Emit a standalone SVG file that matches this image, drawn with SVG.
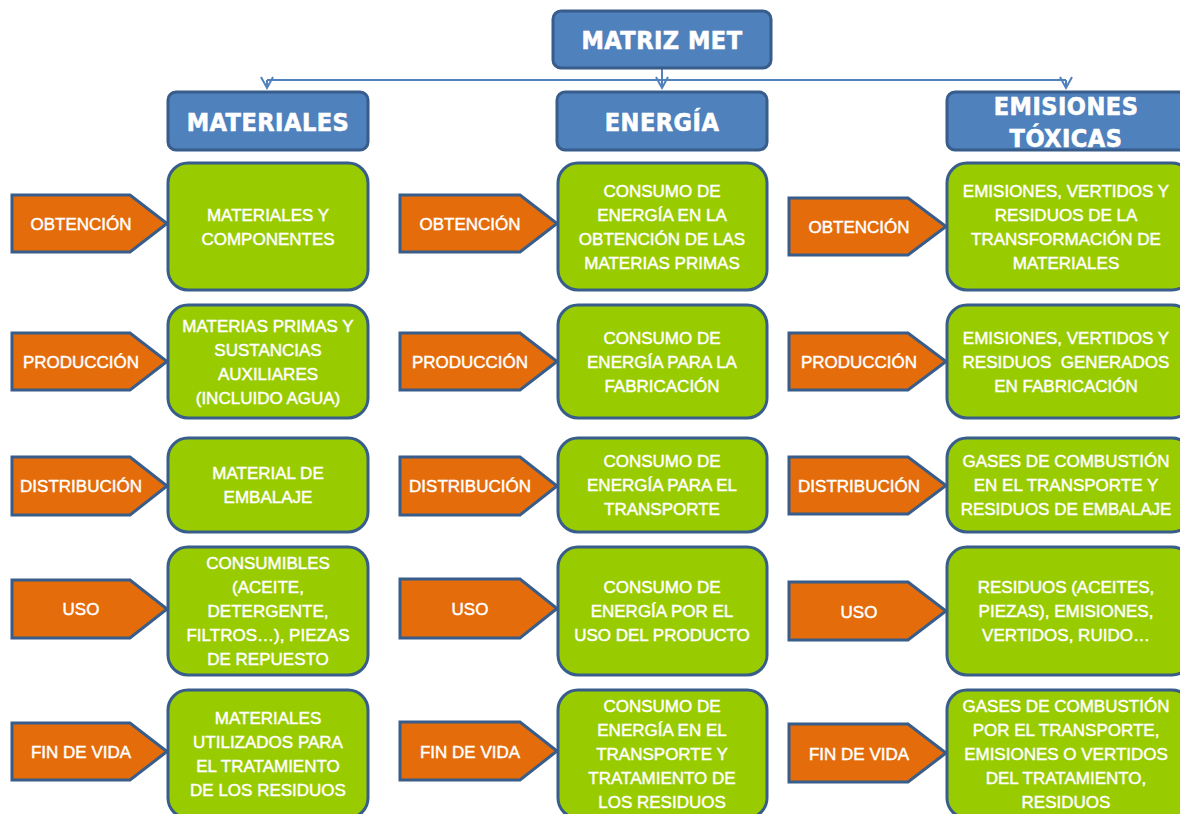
<svg xmlns="http://www.w3.org/2000/svg" width="1180" height="814" viewBox="0 0 1180 814">
<style>
.hdr{fill:#4F81BD;stroke:#385D8A;stroke-width:3}
.grn{fill:#99CC00;stroke:#385D8A;stroke-width:3}
.org{fill:#E46C0A;stroke:#385D8A;stroke-width:3;stroke-linejoin:miter}
.ht{font-family:"DejaVu Sans Condensed","DejaVu Sans",sans-serif;font-weight:bold;font-size:25px;fill:#fff;stroke:#fff;stroke-width:0.6px;text-anchor:middle;letter-spacing:0.5px}
.bt{font-family:"Liberation Sans",Arial,sans-serif;font-size:17px;fill:#fff;stroke:#fff;stroke-width:0.45px;text-anchor:middle}
.con{fill:none;stroke:#4F81BD;stroke-width:2}
</style>
<defs>
<marker id="ah" markerUnits="userSpaceOnUse" markerWidth="16" markerHeight="16" refX="8" refY="12" orient="0" viewBox="0 0 16 16">
<path d="M2,1 L8,12 L14,1" fill="none" stroke="#4F81BD" stroke-width="2"/>
</marker>
</defs>
<rect width="1180" height="814" fill="#fff"/>
<g id="connectors">
<path class="con" d="M662,68 V88" marker-end="url(#ah)"/>
<path class="con" d="M267,80 H1066"/>
<path class="con" d="M267,80 V88" marker-end="url(#ah)"/>
<path class="con" d="M1066,80 V88" marker-end="url(#ah)"/>
</g>
<g id="title"><rect class="hdr" x="553" y="11" width="218" height="57" rx="8"/><text class="ht" x="662" y="49">MATRIZ MET</text></g>
<g id="h-materiales"><rect class="hdr" x="168" y="92" width="200" height="58" rx="8"/><text class="ht" x="268" y="131">MATERIALES</text></g>
<g id="h-energia"><rect class="hdr" x="557" y="92" width="210" height="58" rx="8"/><text class="ht" x="662" y="131">ENERGÍA</text></g>
<g id="h-emisiones"><rect class="hdr" x="947" y="92" width="245" height="58" rx="8"/><text class="ht" x="1066" y="115">EMISIONES</text><text class="ht" x="1066" y="147">TÓXICAS</text></g>

<!-- left column arrows -->
<g id="l-a1"><path class="org" d="M12,195 H130 L167,223.5 L130,252 H12 Z"/><text class="bt" x="81" y="230">OBTENCIÓN</text></g>
<g id="l-a2"><path class="org" d="M12,333 H130 L167,361.5 L130,390 H12 Z"/><text class="bt" x="81" y="368">PRODUCCIÓN</text></g>
<g id="l-a3"><path class="org" d="M12,457 H130 L167,486 L130,515 H12 Z"/><text class="bt" x="81" y="492">DISTRIBUCIÓN</text></g>
<g id="l-a4"><path class="org" d="M12,580 H130 L167,609 L130,638 H12 Z"/><text class="bt" x="81" y="615">USO</text></g>
<g id="l-a5"><path class="org" d="M12,723 H130 L167,751.5 L130,780 H12 Z"/><text class="bt" x="81" y="758">FIN DE VIDA</text></g>

<g id="l-b1"><rect class="grn" x="168" y="163" width="200" height="127" rx="20"/><text class="bt" x="268" y="221">MATERIALES Y</text><text class="bt" x="268" y="245">COMPONENTES</text></g>
<g id="l-b2"><rect class="grn" x="168" y="305" width="200" height="113" rx="20"/><text class="bt" x="268" y="332">MATERIAS PRIMAS Y</text><text class="bt" x="268" y="356">SUSTANCIAS</text><text class="bt" x="268" y="380">AUXILIARES</text><text class="bt" x="268" y="404">(INCLUIDO AGUA)</text></g>
<g id="l-b3"><rect class="grn" x="168" y="438" width="200" height="94" rx="20"/><text class="bt" x="268" y="479">MATERIAL DE</text><text class="bt" x="268" y="503">EMBALAJE</text></g>
<g id="l-b4"><rect class="grn" x="168" y="547" width="200" height="128" rx="20"/><text class="bt" x="268" y="569">CONSUMIBLES</text><text class="bt" x="268" y="593">(ACEITE,</text><text class="bt" x="268" y="617">DETERGENTE,</text><text class="bt" x="268" y="641">FILTROS…), PIEZAS</text><text class="bt" x="268" y="665">DE REPUESTO</text></g>
<g id="l-b5"><rect class="grn" x="168" y="690" width="200" height="128" rx="20"/><text class="bt" x="268" y="724">MATERIALES</text><text class="bt" x="268" y="748">UTILIZADOS PARA</text><text class="bt" x="268" y="772">EL TRATAMIENTO</text><text class="bt" x="268" y="796">DE LOS RESIDUOS</text></g>

<!-- middle column -->
<g id="m-a1"><path class="org" d="M400,195 H520 L557,223.5 L520,252 H400 Z"/><text class="bt" x="470" y="230">OBTENCIÓN</text></g>
<g id="m-a2"><path class="org" d="M400,333 H520 L557,361.5 L520,390 H400 Z"/><text class="bt" x="470" y="368">PRODUCCIÓN</text></g>
<g id="m-a3"><path class="org" d="M400,457 H520 L557,486 L520,515 H400 Z"/><text class="bt" x="470" y="492">DISTRIBUCIÓN</text></g>
<g id="m-a4"><path class="org" d="M400,579 H520 L557,608.5 L520,638 H400 Z"/><text class="bt" x="470" y="615">USO</text></g>
<g id="m-a5"><path class="org" d="M400,722 H520 L557,751 L520,780 H400 Z"/><text class="bt" x="470" y="758">FIN DE VIDA</text></g>

<g id="m-b1"><rect class="grn" x="558" y="163" width="209" height="127" rx="20"/><text class="bt" x="662" y="197">CONSUMO DE</text><text class="bt" x="662" y="221">ENERGÍA EN LA</text><text class="bt" x="662" y="245">OBTENCIÓN DE LAS</text><text class="bt" x="662" y="269">MATERIAS PRIMAS</text></g>
<g id="m-b2"><rect class="grn" x="558" y="305" width="209" height="113" rx="20"/><text class="bt" x="662" y="344">CONSUMO DE</text><text class="bt" x="662" y="368">ENERGÍA PARA LA</text><text class="bt" x="662" y="392">FABRICACIÓN</text></g>
<g id="m-b3"><rect class="grn" x="558" y="438" width="209" height="94" rx="20"/><text class="bt" x="662" y="467">CONSUMO DE</text><text class="bt" x="662" y="491">ENERGÍA PARA EL</text><text class="bt" x="662" y="515">TRANSPORTE</text></g>
<g id="m-b4"><rect class="grn" x="558" y="547" width="209" height="128" rx="20"/><text class="bt" x="662" y="593">CONSUMO DE</text><text class="bt" x="662" y="617">ENERGÍA POR EL</text><text class="bt" x="662" y="641">USO DEL PRODUCTO</text></g>
<g id="m-b5"><rect class="grn" x="558" y="690" width="209" height="128" rx="20"/><text class="bt" x="662" y="712">CONSUMO DE</text><text class="bt" x="662" y="736">ENERGÍA EN EL</text><text class="bt" x="662" y="760">TRANSPORTE Y</text><text class="bt" x="662" y="784">TRATAMIENTO DE</text><text class="bt" x="662" y="808">LOS RESIDUOS</text></g>

<!-- right column -->
<g id="r-a1"><path class="org" d="M789,198 H908 L946,226.5 L908,255 H789 Z"/><text class="bt" x="859" y="233">OBTENCIÓN</text></g>
<g id="r-a2"><path class="org" d="M789,333 H908 L946,361.5 L908,390 H789 Z"/><text class="bt" x="859" y="368">PRODUCCIÓN</text></g>
<g id="r-a3"><path class="org" d="M789,457 H908 L946,485.5 L908,514 H789 Z"/><text class="bt" x="859" y="492">DISTRIBUCIÓN</text></g>
<g id="r-a4"><path class="org" d="M789,582 H908 L946,611 L908,640 H789 Z"/><text class="bt" x="859" y="618">USO</text></g>
<g id="r-a5"><path class="org" d="M789,724 H908 L946,753 L908,782 H789 Z"/><text class="bt" x="859" y="760">FIN DE VIDA</text></g>

<g id="r-b1"><rect class="grn" x="947" y="163" width="245" height="127" rx="20"/><text class="bt" x="1066" y="197">EMISIONES, VERTIDOS Y</text><text class="bt" x="1066" y="221">RESIDUOS DE LA</text><text class="bt" x="1066" y="245">TRANSFORMACIÓN DE</text><text class="bt" x="1066" y="269">MATERIALES</text></g>
<g id="r-b2"><rect class="grn" x="947" y="305" width="245" height="113" rx="20"/><text class="bt" x="1066" y="344">EMISIONES, VERTIDOS Y</text><text class="bt" x="1066" y="368" xml:space="preserve">RESIDUOS  GENERADOS</text><text class="bt" x="1066" y="392">EN FABRICACIÓN</text></g>
<g id="r-b3"><rect class="grn" x="947" y="438" width="245" height="94" rx="20"/><text class="bt" x="1066" y="467">GASES DE COMBUSTIÓN</text><text class="bt" x="1066" y="491">EN EL TRANSPORTE Y</text><text class="bt" x="1066" y="515">RESIDUOS DE EMBALAJE</text></g>
<g id="r-b4"><rect class="grn" x="947" y="547" width="245" height="128" rx="20"/><text class="bt" x="1066" y="593">RESIDUOS (ACEITES,</text><text class="bt" x="1066" y="617">PIEZAS), EMISIONES,</text><text class="bt" x="1066" y="641">VERTIDOS, RUIDO…</text></g>
<g id="r-b5"><rect class="grn" x="947" y="690" width="245" height="128" rx="20"/><text class="bt" x="1066" y="712">GASES DE COMBUSTIÓN</text><text class="bt" x="1066" y="736">POR EL TRANSPORTE,</text><text class="bt" x="1066" y="760">EMISIONES O VERTIDOS</text><text class="bt" x="1066" y="784">DEL TRATAMIENTO,</text><text class="bt" x="1066" y="808">RESIDUOS</text></g>
</svg>
